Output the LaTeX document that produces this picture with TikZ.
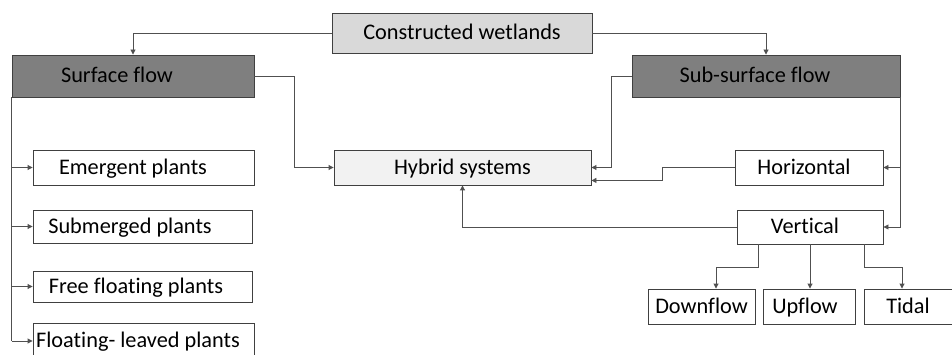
\documentclass[tikz,border=0pt]{standalone}
\usepackage{fontspec}
\setmainfont{Carlito}[Ligatures=NoCommon]
\usetikzlibrary{arrows.meta,calc}
\definecolor{bordc}{HTML}{404040}
\definecolor{linec}{HTML}{505050}
\definecolor{topfill}{HTML}{D9D9D9}
\definecolor{darkfill}{HTML}{7F7F7F}
\definecolor{hyfill}{HTML}{F2F2F2}
\begin{document}
\begin{tikzpicture}[x=1pt,y=-1pt,
  box/.style={draw=bordc, line width=0.9pt, inner sep=0pt, fill=white,
    text height=15pt, text depth=1.5pt,
    font=\fontsize{22.3}{24}\selectfont, text=black},
  con/.style={draw=linec, line width=0.9pt},
  arr/.style={con, -{Triangle[length=5pt,width=5pt]}}]
\useasboundingbox (0,0) rectangle (952,355);
\clip (0,0) rectangle (952,355);
% boxes
\node[box, fill=topfill, minimum width=260pt, minimum height=40pt] (cw) at (462,33) {Constructed wetlands};
\node[box, fill=darkfill, minimum width=242pt, minimum height=42pt] (sf) at (133,76) {Surface flow\hspace*{32pt}};
\node[box, fill=darkfill, minimum width=268pt, minimum height=42pt] (ssf) at (766,76) {Sub-surface flow\hspace*{22pt}};
\node[box, fill=hyfill, minimum width=257pt, minimum height=35pt] (hy) at (462.5,167.5) {Hybrid systems};
\node[box, minimum width=221pt, minimum height=35pt] (em) at (143.5,167.5) {Emergent plants\hspace*{21pt}};
\node[box, minimum width=219pt, minimum height=33pt] (sub) at (142.5,226.5) {Submerged plants\hspace*{25pt}};
\node[box, minimum width=219pt, minimum height=31pt] (ff) at (142.5,286.5) {Free floating plants\hspace*{13pt}};
\node[box, minimum width=221pt, minimum height=36pt] (fl) at (143.5,341) {Floating- leaved plants\hspace*{11pt}};
\node[box, minimum width=148pt, minimum height=35pt] (hor) at (809,167.5) {Horizontal\hspace*{10pt}};
\node[box, minimum width=146pt, minimum height=34pt] (ver) at (810,227) {Vertical\hspace*{10pt}};
\node[box, minimum width=107pt, minimum height=35pt] (dn) at (701.5,306.5) {Downflow};
\node[box, minimum width=92pt, minimum height=35pt] (up) at (809,306.5) {Upflow\hspace*{8pt}};
\node[box, minimum width=92pt, minimum height=35pt] (td) at (910,306.5) {Tidal\hspace*{4pt}};
% top connectors
\draw[arr] (cw.west) -| (sf.north);
\draw[arr] (cw.east) -| (ssf.north);
% to hybrid
\coordinate (k1) at ($(sf.east)+(40,0)$);
\draw[arr] (sf.east) -- (k1) |- (hy.west);
\coordinate (k2) at ($(ssf.west)+(-20,0)$);
\draw[arr] (ssf.west) -- (k2) |- (hy.east);
\coordinate (k3) at ($(hor.west)+(-72,0)$);
\coordinate (k4) at ($(hy.south east)+(0,-5)$);
\draw[arr] (hor.west) -- (k3) |- (k4);
\draw[arr] (ver.west) -| (hy.south);
% sub-surface right spine
\draw[arr] (ssf.south east) |- (ver.east);
\draw[arr] (ssf.south east |- hor.east) -- (hor.east);
% vertical branches
\coordinate (v1) at ($(ver.south west)+(22,0)$);
\coordinate (d1) at (716,267);
\draw[arr] (v1) |- (d1) -- (d1 |- dn.north);
\draw[arr] (ver.south) -- (ver.south |- up.north);
\coordinate (v2) at ($(ver.south east)+(-19,0)$);
\coordinate (t1) at (902,267);
\draw[arr] (v2) |- (t1) -- (t1 |- td.north);
% surface flow left spine
\coordinate (sp) at (sf.south west |- fl.west);
\draw[con] (sf.south west) -- (sp);
\draw[arr] (sf.south west |- em.west) -- (em.west);
\draw[arr] (sf.south west |- sub.west) -- (sub.west);
\draw[arr] (sf.south west |- ff.west) -- (ff.west);
\draw[arr] (sp) -- (fl.west);
\end{tikzpicture}
\end{document}
